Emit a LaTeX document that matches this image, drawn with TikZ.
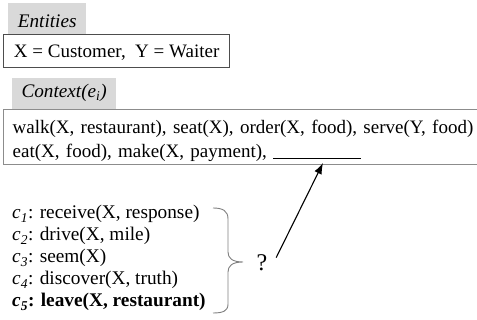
\documentclass[tikz,border=0pt]{standalone}
\usepackage{fontspec}
\setmainfont{Liberation Serif}
\usetikzlibrary{arrows.meta}
\definecolor{tagfill}{HTML}{D9D9D9}
\definecolor{boxline}{HTML}{4D4D4D}
\definecolor{ctxline}{HTML}{8C8C8C}
\definecolor{bracegray}{HTML}{7F7F7F}

\begin{document}
\begin{tikzpicture}[x=1pt, y=-1pt, font=\fontsize{19}{24}\selectfont]
\tikzstyle{tagbox}=[fill=tagfill, anchor=north west, inner sep=0pt, font=\fontsize{19.2}{24}\selectfont\itshape]
\tikzstyle{factbox}=[anchor=north west, inner xsep=9pt, inner ysep=0pt, line width=1.3pt]
\tikzstyle{cand}=[anchor=base west, inner sep=0pt, font=\fontsize{19.3}{24}\selectfont]
\tikzstyle{qmark}=[font=\fontsize{24}{28}\selectfont, inner sep=6pt]
\tikzstyle{arr}=[-{Latex[length=11pt, width=8pt]}, line width=1.1pt, shorten <=6pt]
%
\clip (0,0) rectangle (477,320);
%
\begin{scope}

% entities
\node [tagbox, minimum width=78pt, text height=24pt, text depth=7pt] (enttag) at (8,3) {Entities};
\node [factbox, draw=boxline, inner xsep=0pt, minimum width=226pt, text height=23pt, text depth=10pt] (ent) at (3,34)
	{X = Customer,\ \ Y = Waiter};

% context
\node [tagbox, minimum width=104pt, text height=19pt, text depth=12pt] (ctxtag) at (12,78) {Context(e\textsubscript{i})};
\node [factbox, draw=ctxline, align=left, text width=480pt, text height=24pt, text depth=31pt] (ctx) at (3,109)
	{walk(X, restaurant), seat(X), order(X, food), serve(Y, food)\\
	eat(X, food), make(X, payment), \rule[-1.5pt]{88pt}{0.9pt}};
\coordinate (blank) at (323,163);

% candidates
\node [cand] (c1) at (12,219) {\textit{c\textsubscript{1}}: receive(X, response)};
\node [cand] (c2) at (12,241) {\textit{c\textsubscript{2}}: drive(X, mile)};
\node [cand] (c3) at (12,263) {\textit{c\textsubscript{3}}: seem(X)};
\node [cand] (c4) at (12,285) {\textit{c\textsubscript{4}}: discover(X, truth)};
\node [cand] (c5) at (12,307) {\textbf{\textit{c\textsubscript{5}}: leave(X, restaurant)}};

\draw [bracegray, line width=0.9pt] (213,208) .. controls (223,208) and (228,211) .. (228,219)
	-- (228,252) .. controls (228,258) and (232,262) .. (243,262)
	.. controls (232,262) and (228,266) .. (228,272)
	-- (228,304) .. controls (228,311) and (223,313) .. (213,313);

\node [qmark] (q) at (262,263) {?};
\draw [arr] (q.east) -- (blank);

\end{scope}
%
\end{tikzpicture}
\end{document}
